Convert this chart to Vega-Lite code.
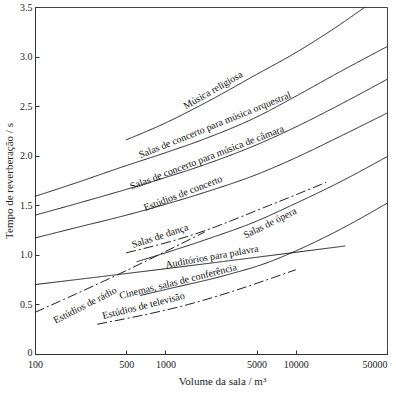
{
  "$schema": "https://vega.github.io/schema/vega-lite/v6.json",
  "width": 352,
  "height": 347,
  "autosize": {"type": "none"},
  "padding": {"left": 35, "top": 7, "right": 9, "bottom": 39},
  "background": "white",
  "config": {
    "font": "Liberation Serif",
    "view": {"stroke": "#444", "strokeWidth": 1},
    "axis": {"labelFont": "Liberation Serif", "titleFont": "Liberation Serif", "labelColor": "#222", "titleColor": "#222", "titleFontWeight": "normal", "domainColor": "#333", "tickColor": "#333", "grid": false}
  },
  "datasets": {
    "curves": [
      {"curve": "religiosa", "style": "solid", "v": 500, "t": 2.16},
      {"curve": "religiosa", "style": "solid", "v": 1000, "t": 2.33},
      {"curve": "religiosa", "style": "solid", "v": 2000, "t": 2.53},
      {"curve": "religiosa", "style": "solid", "v": 5000, "t": 2.82},
      {"curve": "religiosa", "style": "solid", "v": 10000, "t": 3.04},
      {"curve": "religiosa", "style": "solid", "v": 20000, "t": 3.29},
      {"curve": "religiosa", "style": "solid", "v": 34000, "t": 3.5},
      {"curve": "orquestral", "style": "solid", "v": 100, "t": 1.59},
      {"curve": "orquestral", "style": "solid", "v": 200, "t": 1.72},
      {"curve": "orquestral", "style": "solid", "v": 500, "t": 1.9},
      {"curve": "orquestral", "style": "solid", "v": 1000, "t": 2.03},
      {"curve": "orquestral", "style": "solid", "v": 2000, "t": 2.17},
      {"curve": "orquestral", "style": "solid", "v": 5000, "t": 2.39},
      {"curve": "orquestral", "style": "solid", "v": 10000, "t": 2.6},
      {"curve": "orquestral", "style": "solid", "v": 20000, "t": 2.82},
      {"curve": "orquestral", "style": "solid", "v": 50000, "t": 3.1},
      {"curve": "camara", "style": "solid", "v": 100, "t": 1.4},
      {"curve": "camara", "style": "solid", "v": 200, "t": 1.51},
      {"curve": "camara", "style": "solid", "v": 500, "t": 1.66},
      {"curve": "camara", "style": "solid", "v": 1000, "t": 1.78},
      {"curve": "camara", "style": "solid", "v": 2000, "t": 1.91},
      {"curve": "camara", "style": "solid", "v": 5000, "t": 2.11},
      {"curve": "camara", "style": "solid", "v": 10000, "t": 2.29},
      {"curve": "camara", "style": "solid", "v": 20000, "t": 2.49},
      {"curve": "camara", "style": "solid", "v": 50000, "t": 2.77},
      {"curve": "concerto", "style": "solid", "v": 100, "t": 1.17},
      {"curve": "concerto", "style": "solid", "v": 200, "t": 1.27},
      {"curve": "concerto", "style": "solid", "v": 500, "t": 1.4},
      {"curve": "concerto", "style": "solid", "v": 1000, "t": 1.51},
      {"curve": "concerto", "style": "solid", "v": 2000, "t": 1.63},
      {"curve": "concerto", "style": "solid", "v": 5000, "t": 1.81},
      {"curve": "concerto", "style": "solid", "v": 10000, "t": 1.98},
      {"curve": "concerto", "style": "solid", "v": 20000, "t": 2.17},
      {"curve": "concerto", "style": "solid", "v": 50000, "t": 2.43},
      {"curve": "opera", "style": "solid", "v": 600, "t": 0.93},
      {"curve": "opera", "style": "solid", "v": 1000, "t": 1.02},
      {"curve": "opera", "style": "solid", "v": 2000, "t": 1.15},
      {"curve": "opera", "style": "solid", "v": 5000, "t": 1.34},
      {"curve": "opera", "style": "solid", "v": 10000, "t": 1.52},
      {"curve": "opera", "style": "solid", "v": 20000, "t": 1.71},
      {"curve": "opera", "style": "solid", "v": 50000, "t": 1.99},
      {"curve": "auditorios", "style": "solid", "v": 100, "t": 0.7},
      {"curve": "auditorios", "style": "solid", "v": 1000, "t": 0.86},
      {"curve": "auditorios", "style": "solid", "v": 24000, "t": 1.09},
      {"curve": "cinemas", "style": "solid", "v": 640, "t": 0.59},
      {"curve": "cinemas", "style": "solid", "v": 1000, "t": 0.65},
      {"curve": "cinemas", "style": "solid", "v": 3000, "t": 0.8},
      {"curve": "cinemas", "style": "solid", "v": 6000, "t": 0.92},
      {"curve": "cinemas", "style": "solid", "v": 10000, "t": 1.04},
      {"curve": "cinemas", "style": "solid", "v": 20000, "t": 1.23},
      {"curve": "cinemas", "style": "solid", "v": 50000, "t": 1.52},
      {"curve": "danca", "style": "dashdot", "v": 500, "t": 1.02},
      {"curve": "danca", "style": "dashdot", "v": 1600, "t": 1.2},
      {"curve": "danca", "style": "dashdot", "v": 6300, "t": 1.5},
      {"curve": "danca", "style": "dashdot", "v": 17000, "t": 1.73},
      {"curve": "radio", "style": "dashdot", "v": 100, "t": 0.42},
      {"curve": "radio", "style": "dashdot", "v": 430, "t": 0.8},
      {"curve": "radio", "style": "dashdot", "v": 2000, "t": 1.23},
      {"curve": "televisao", "style": "dashdot", "v": 300, "t": 0.3},
      {"curve": "televisao", "style": "dashdot", "v": 1500, "t": 0.5},
      {"curve": "televisao", "style": "dashdot", "v": 10000, "t": 0.85}
    ],
    "labels": [
      {"label": "Música religiosa", "v": 2318, "t": 2.66, "angle": -30},
      {"label": "Salas de concerto para música orquestral", "v": 2399, "t": 2.31, "angle": -22},
      {"label": "Salas de concerto para música de câmara", "v": 2084, "t": 1.98, "angle": -21},
      {"label": "Estúdios de concerto", "v": 1365, "t": 1.62, "angle": -21},
      {"label": "Salas de dança", "v": 910, "t": 1.19, "angle": -18},
      {"label": "Salas de ópera", "v": 6340, "t": 1.32, "angle": -26},
      {"label": "Auditórios para palavra", "v": 2275, "t": 0.98, "angle": -10},
      {"label": "Cinemas, salas de conferência", "v": 1250, "t": 0.73, "angle": -14},
      {"label": "Estúdios de televisão", "v": 680, "t": 0.485, "angle": -14},
      {"label": "Estúdios de rádio", "v": 242, "t": 0.49, "angle": -27}
    ]
  },
  "layer": [
    {
      "data": {"name": "curves"},
      "mark": {"type": "line", "interpolate": "monotone", "strokeWidth": 1, "color": "#222"},
      "encoding": {
        "x": {"field": "v", "type": "quantitative",
          "scale": {"type": "log", "domain": [100, 50000], "nice": false},
          "axis": {"values": [100, 500, 1000, 5000, 10000, 50000], "format": "d", "title": "Volume da sala / m³",
            "labelFontSize": 10, "titleFontSize": 11, "tickSize": -4, "labelPadding": 9, "titlePadding": 6, "titleX": 187,
            "labelAlign": {"condition": {"test": "datum.value == 50000", "value": "right"}, "value": "center"}}},
        "y": {"field": "t", "type": "quantitative",
          "scale": {"domain": [0, 3.5], "nice": false},
          "axis": {"values": [0, 0.5, 1, 1.5, 2, 2.5, 3, 3.5], "labelExpr": "datum.value == 0 ? '0' : format(datum.value, '.1f')",
            "labelOffset": {"condition": {"test": "datum.value == 0", "value": -2}, "value": 0},
            "title": "Tempo de reverberação / s", "labelFontSize": 10, "titleFontSize": 11, "tickSize": -4, "labelPadding": 7, "titlePadding": 5}},
        "detail": {"field": "curve"},
        "strokeDash": {"field": "style", "type": "nominal", "scale": {"domain": ["solid", "dashdot"], "range": [[1, 0], [10, 3, 2, 3]]}, "legend": null}
      }
    },
    {
      "data": {"name": "labels"},
      "mark": {"type": "text", "font": "Liberation Serif", "fontSize": 10, "color": "#111"},
      "encoding": {
        "x": {"field": "v", "type": "quantitative"},
        "y": {"field": "t", "type": "quantitative"},
        "text": {"field": "label"},
        "angle": {"field": "angle", "type": "quantitative", "scale": null}
      }
    }
  ]
}
